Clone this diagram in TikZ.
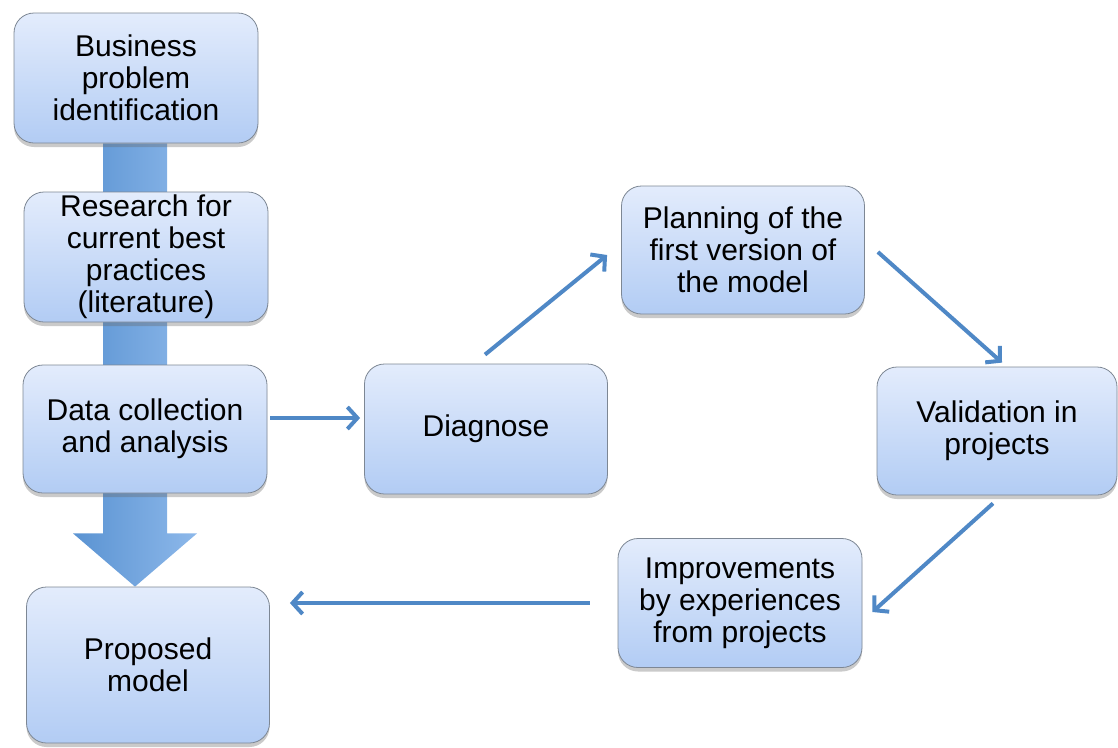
\documentclass[tikz,border=0pt]{standalone}
\usepackage{fontspec}
\setmainfont{Liberation Sans}
\usetikzlibrary{arrows.meta,shadows,backgrounds,calc}

\definecolor{boxtop}{HTML}{E3ECFC}
\definecolor{boxbot}{HTML}{B2CCF4}
\definecolor{boxline}{HTML}{7D8794}
\definecolor{linkblue}{HTML}{4F88C6}
\definecolor{shaftdark}{HTML}{5A93D2}
\definecolor{shaftlight}{HTML}{8DB8EA}

\tikzset{
  stagebox/.style={
    rounded corners=20pt, draw=boxline, line width=0.8pt,
    top color=boxtop, bottom color=boxbot,
    drop shadow={shadow xshift=0pt, shadow yshift=-4pt, opacity=0.35, fill=black!60},
    align=center, inner sep=0pt,
    font=\fontsize{30}{32}\selectfont
  },
  link/.style={
    draw=linkblue, line width=4pt,
    -{Straight Barb[length=10pt,width=22pt,line width=4pt]}
  }
}

\begin{document}
\begin{tikzpicture}[x=1pt,y=-1pt]
\useasboundingbox (0,0) rectangle (1118,747);

% left column of stages
\node[stagebox, minimum width=244pt, minimum height=130pt] (biz) at (136,78)
  {Business\\problem\\identification};
\node[stagebox, minimum width=244pt, minimum height=130pt] (res) at (146,257)
  {Research for\\current best\\practices\\(literature)};
\node[stagebox, minimum width=244pt, minimum height=128pt] (data) at (145,429)
  {Data collection\\and analysis};
\node[stagebox, minimum width=243pt, minimum height=156pt] (prop) at (148,665)
  {Proposed\\model};

% improvement cycle
\node[stagebox, minimum width=243pt, minimum height=130pt] (diag) at (486,429)
  {Diagnose};
\node[stagebox, minimum width=243pt, minimum height=128pt] (plan) at (743,250)
  {Planning of the\\first version of\\the model};
\node[stagebox, minimum width=240pt, minimum height=128pt] (valid) at (997,431)
  {Validation in\\projects};
\node[stagebox, minimum width=244pt, minimum height=129pt] (impr) at (740,603)
  {Improvements\\by experiences\\from projects};

% broad block arrow running down behind the left column
\coordinate (shafttop) at ([xshift=-1pt]biz.south);
\coordinate (neck) at ($(shafttop |- data.south)+(0,40)$);
\coordinate (tip) at (shafttop |- prop.north);
\begin{scope}[on background layer]
  \path[left color=shaftdark, right color=shaftlight]
    ($(shafttop)+(-32,0)$) -- ($(shafttop)+(32,0)$)
    -- ($(neck)+(32,0)$) -- ($(neck)+(62,0)$)
    -- (tip)
    -- ($(neck)+(-62,0)$) -- ($(neck)+(-32,0)$)
    -- cycle;
\end{scope}

% connectors of the cycle
\draw[link] ([xshift=3pt,yshift=11pt]data.east) -- ([xshift=-4pt,yshift=11pt]diag.west);
\draw[link] ([xshift=-1pt,yshift=9pt]diag.north) -- ([xshift=-14pt,yshift=-5pt]plan.west);
\draw[link] ([xshift=13pt,yshift=-2pt]plan.east) -- ([xshift=5pt,yshift=4pt]valid.north);
\draw[link] ([xshift=-4pt,yshift=-8pt]valid.south) -- ([xshift=10pt,yshift=-9pt]impr.east);
\draw[link] ([xshift=-28pt]impr.west) -- ([xshift=20pt,yshift=62pt]prop.east);

\end{tikzpicture}
\end{document}
